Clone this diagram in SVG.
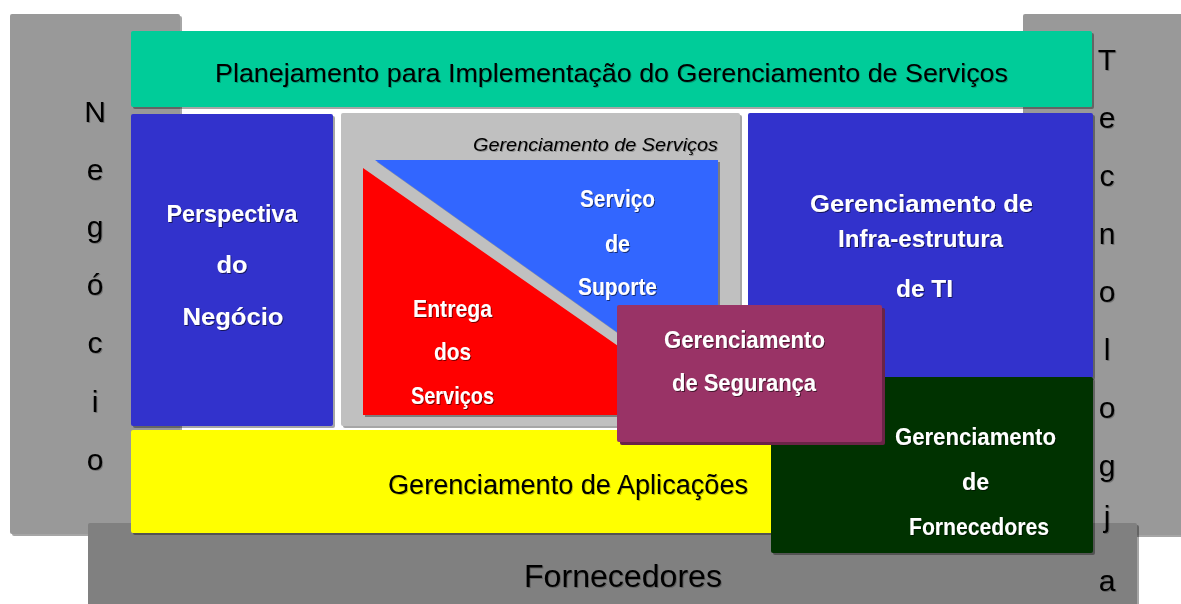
<svg xmlns="http://www.w3.org/2000/svg" width="1181" height="604" viewBox="0 0 1181 604">
  <defs>
    <filter id="bs" x="-5%" y="-5%" width="110%" height="110%">
      <feDropShadow dx="2" dy="2" stdDeviation="0.6" flood-color="#000" flood-opacity="0.35"/>
    </filter>
    <filter id="ts" x="-5%" y="-20%" width="110%" height="140%">
      <feDropShadow dx="1" dy="1" stdDeviation="0.7" flood-color="#000" flood-opacity="0.55"/>
    </filter>
    <filter id="tsl" x="-5%" y="-20%" width="110%" height="140%">
      <feDropShadow dx="1" dy="1" stdDeviation="0.7" flood-color="#000" flood-opacity="0.25"/>
    </filter>
  </defs>
  <style>
    text { font-family: "Liberation Sans", Arial, sans-serif; }
    .w { fill: #ffffff; font-size: 24px; font-weight: bold; text-anchor: middle; filter: url(#ts); }
    .k { fill: #000000; text-anchor: middle; filter: url(#tsl); }
    .v { fill: #000000; font-size: 30px; text-anchor: middle; filter: url(#tsl); }
    .box { filter: url(#bs); }
  </style>
  <rect width="1181" height="604" fill="#ffffff"/>

  <g id="negocio">
    <rect class="box" x="10" y="14" width="170" height="520" rx="2" fill="#999999"/>
  </g>
  <g id="tecnologia">
    <rect class="box" x="1023" y="14" width="160" height="521" rx="2" fill="#999999"/>
  </g>
  <g id="fornecedores">
    <rect class="box" x="88" y="523" width="1049" height="85" rx="2" fill="#808080"/>
    <text class="k" x="623" y="587" font-size="31" textLength="198" lengthAdjust="spacingAndGlyphs">Fornecedores</text>
  </g>

  <g id="planejamento">
    <rect class="box" x="131" y="31" width="961" height="76" rx="2" fill="#00CC99"/>
    <text class="k" x="611.5" y="82" font-size="25" textLength="793" lengthAdjust="spacingAndGlyphs">Planejamento para Implementação do Gerenciamento de Serviços</text>
  </g>

  <g id="perspectiva">
    <rect class="box" x="131" y="114" width="202" height="312" rx="2" fill="#3333CC"/>
    <text class="w" x="232" y="222" textLength="131" lengthAdjust="spacingAndGlyphs">Perspectiva</text>
    <text class="w" x="232" y="273" textLength="31" lengthAdjust="spacingAndGlyphs">do</text>
    <text class="w" x="233" y="325" textLength="101" lengthAdjust="spacingAndGlyphs">Negócio</text>
  </g>

  <g id="gerenciamento-servicos">
    <rect class="box" x="341" y="113" width="399" height="313" rx="2" fill="#C0C0C0"/>
    <text x="718" y="151" font-size="19" font-style="italic" fill="#000" text-anchor="end" textLength="245" lengthAdjust="spacingAndGlyphs" filter="url(#tsl)">Gerenciamento de Serviços</text>
  </g>

  <g id="servico-suporte">
    <polygon class="box" points="375,160 718,160 718,404" fill="#3366FF"/>
    <text class="w" x="617.5" y="207" textLength="75" lengthAdjust="spacingAndGlyphs">Serviço</text>
    <text class="w" x="617.5" y="252" textLength="25" lengthAdjust="spacingAndGlyphs">de</text>
    <text class="w" x="617.5" y="295" textLength="79" lengthAdjust="spacingAndGlyphs">Suporte</text>
  </g>

  <g id="entrega-servicos">
    <polygon class="box" points="363,168 363,415 717,415" fill="#FF0000"/>
    <text class="w" x="452.5" y="317" textLength="79" lengthAdjust="spacingAndGlyphs">Entrega</text>
    <text class="w" x="452.5" y="360" textLength="37" lengthAdjust="spacingAndGlyphs">dos</text>
    <text class="w" x="452.5" y="404" textLength="83" lengthAdjust="spacingAndGlyphs">Serviços</text>
  </g>

  <g id="infraestrutura">
    <rect class="box" x="748" y="113" width="345" height="265" rx="2" fill="#3333CC"/>
    <text class="w" x="921.5" y="212" textLength="223" lengthAdjust="spacingAndGlyphs">Gerenciamento de</text>
    <text class="w" x="920.5" y="247" textLength="165" lengthAdjust="spacingAndGlyphs">Infra-estrutura</text>
    <text class="w" x="924.5" y="297" textLength="57" lengthAdjust="spacingAndGlyphs">de TI</text>
  </g>

  <g id="aplicacoes">
    <rect class="box" x="131" y="430" width="680" height="103" rx="2" fill="#FFFF00"/>
    <text class="k" x="568" y="494" font-size="27" textLength="360" lengthAdjust="spacingAndGlyphs">Gerenciamento de Aplicações</text>
  </g>

  <g id="gerenciamento-fornecedores">
    <rect class="box" x="771" y="377" width="322" height="176" rx="2" fill="#003300"/>
    <text class="w" x="975.5" y="445" font-size="23" textLength="161" lengthAdjust="spacingAndGlyphs">Gerenciamento</text>
    <text class="w" x="975.5" y="490" font-size="23" textLength="27" lengthAdjust="spacingAndGlyphs">de</text>
    <text class="w" x="979" y="535" font-size="23" textLength="140" lengthAdjust="spacingAndGlyphs">Fornecedores</text>
  </g>

  <g id="seguranca">
    <rect x="620" y="308" width="265" height="137" rx="2" fill="#6B2447"/>
    <rect x="617" y="305" width="265" height="137" rx="2" fill="#993366"/>
    <text class="w" x="744.5" y="348" font-size="23" textLength="161" lengthAdjust="spacingAndGlyphs">Gerenciamento</text>
    <text class="w" x="744" y="391" font-size="23" textLength="144" lengthAdjust="spacingAndGlyphs">de Segurança</text>
  </g>

  <g id="negocio-label">
    <text class="v" x="95" y="122">N</text>
    <text class="v" x="95" y="180">e</text>
    <text class="v" x="95" y="237">g</text>
    <text class="v" x="95" y="295">ó</text>
    <text class="v" x="95" y="353">c</text>
    <text class="v" x="95" y="412">i</text>
    <text class="v" x="95" y="470">o</text>
  </g>
  <g id="tecnologia-label">
    <text class="v" x="1107" y="70">T</text>
    <text class="v" x="1107" y="128">e</text>
    <text class="v" x="1107" y="186">c</text>
    <text class="v" x="1107" y="244">n</text>
    <text class="v" x="1107" y="302">o</text>
    <text class="v" x="1107" y="360">l</text>
    <text class="v" x="1107" y="418">o</text>
    <text class="v" x="1107" y="476">g</text>
    <text class="v" x="1107" y="527">j</text>
    <text class="v" x="1107" y="591">a</text>
  </g>
  <g id="connectors"></g>
</svg>
